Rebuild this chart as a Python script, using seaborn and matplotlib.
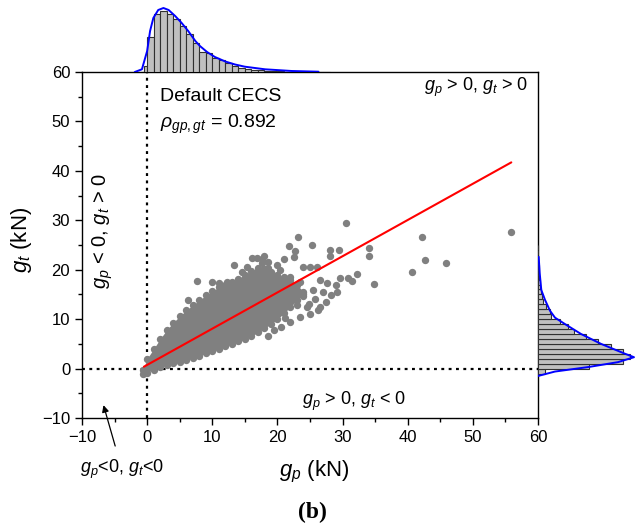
import numpy as np
import pandas as pd
import matplotlib
matplotlib.use("Agg")
import matplotlib.pyplot as plt
import seaborn as sns

sns.set_theme(style="white")
plt.rcParams['font.family'] = ['Liberation Sans', 'DejaVu Sans']
plt.rcParams['mathtext.fontset'] = 'custom'
plt.rcParams['mathtext.it'] = 'Liberation Sans:italic'
plt.rcParams['mathtext.rm'] = 'Liberation Sans'
plt.rcParams['mathtext.default'] = 'it'
for key in ('text.color', 'axes.labelcolor', 'xtick.color', 'ytick.color',
            'axes.edgecolor'):
    plt.rcParams[key] = 'black'

# ---- data -------------------------------------------------------------
# dense core of the g_p / g_t cloud: lower and upper envelope per g_p
core_gp = [-0.6, 0, 1, 2, 3, 4, 5, 6, 7, 8, 9, 10, 11, 12, 13, 14, 15, 16,
           17, 18, 19, 20, 21, 22, 23, 24]
core_hi = [-0.3, 2.0, 4.0, 6.0, 7.8, 9.3, 10.6, 11.8, 12.8, 13.8, 14.8, 15.6,
           16.5, 17.0, 17.6, 18.2, 19.0, 19.8, 20.3, 20.2, 19.6, 19.0, 18.5,
           18.0, 17.0, 15.5]
core_lo = [-1.0, -0.8, -0.2, 0.3, 0.7, 1.1, 1.4, 1.7, 2.1, 2.6, 3.1, 3.5, 4.0,
           4.5, 5.0, 5.5, 6.0, 6.6, 7.3, 8.2, 9.0, 10.0, 11.2, 12.5, 13.8, 15.0]

# scattered samples outside the core
pts_gp = [6.3, 7.6, 9.9, 11.0, 12.2, 13.3, 14.5, 15.3, 16.1, 16.9, 17.6, 17.9,
          18.6, 19.9, 18.6, 20.4, 22.0, 17.6, 21.0, 21.8, 22.7, 22.6, 23.1,
          25.3, 28.1, 29.4, 28.1, 30.6, 34.0, 34.1, 32.2, 34.9, 30.8, 29.6,
          29.2, 29.0, 27.6, 26.0, 25.0, 24.0, 26.6, 25.5, 24.0, 24.5, 18.6,
          20.5, 22.0, 23.5, 25.0, 26.5, 27.5, 23.0, 25.8, 27.0, 22.5, 23.5,
          19.5, 21.2, 24.8, 26.2, 28.3, 31.5,
          40.7, 42.2, 42.6, 45.9, 55.9]
pts_gt = [13.9, 17.8, 17.6, 17.3, 17.6, 21.0, 19.6, 20.6, 22.3, 22.3, 22.1,
          22.7, 21.6, 21.0, 20.3, 20.0, 18.6, 21.3, 22.2, 24.7, 23.7, 22.5,
          26.7, 24.9, 24.0, 24.0, 22.8, 29.4, 24.4, 22.7, 19.1, 17.1, 18.3,
          18.3, 15.4, 16.9, 17.3, 20.6, 20.6, 20.6, 17.9, 15.9, 14.6, 12.5,
          6.5, 8.5, 9.5, 10.5, 11.0, 12.5, 13.5, 12.8, 14.0, 15.5, 15.0, 17.5,
          7.8, 10.2, 13.0, 11.8, 14.8, 17.8,
          19.6, 26.7, 22.0, 21.3, 27.6]

# linear fit g_t = a + b * g_p over the sampled g_p range
fit_a, fit_b = 0.74, 0.733
fit_range = [-0.5, 55.9]

# marginal histogram of g_p (bin edges, relative frequency) and its KDE
gp_edges = [-0.5] + list(range(0, 29))
gp_freq = [6, 35, 58, 61, 58, 53, 46, 38, 29, 20, 19, 14, 12, 9, 6, 4.3, 3.3,
           2.3, 1.7, 1.0, 0.8, 0.6, 0.4, 0.3, 0.2, 0.2, 0.1, 0.1, 0.1]
gp_kde_x = [-1.9, -0.8, 0, 0.45, 0.95, 1.7, 2.5, 3.3, 4.3, 5.3, 6.3, 7.4, 8.1,
            9.2, 10.4, 12, 13.5, 15, 18.1, 22.2, 26.3]
gp_kde_y = [0, 2.7, 21, 41, 54, 62, 64, 62, 56, 49, 41, 31, 26, 20, 15, 10.5,
            7.5, 5.3, 2.7, 1.0, 0.3]

# marginal histogram of g_t and its KDE
gt_edges = list(range(-1, 26))
gt_freq = [7, 51, 85, 92, 85, 73, 60, 48, 36, 30, 22, 13, 12, 8, 5, 4, 3, 2,
           1.5, 1, 0.7, 0.5, 0.3, 0.2, 0.1, 0.1]
gt_kde_y = [-1.5, -0.6, 0.3, 1.3, 2.3, 3.0, 5.0, 7.0, 9.0, 10.3, 11.7, 13.9,
            15.9, 19.3, 22.6]
gt_kde_x = [0, 17, 50, 80, 96, 87, 63, 43, 27, 17, 12, 7, 3.3, 1.7, 0.7]

# ---- figure -----------------------------------------------------------
W, H = 640, 530
fig = plt.figure(figsize=(W / 100, H / 100), dpi=100)
L, R, T, B = 82, 538, 72, 418
ax = fig.add_axes([L / W, 1 - B / H, (R - L) / W, (B - T) / H])
ax_top = fig.add_axes([L / W, 1 - T / H, (R - L) / W, 67 / H])
ax_right = fig.add_axes([R / W, 1 - B / H, (W - R) / W, (B - T) / H])

grey = "#808080"
msize = 28
ax.fill_between(core_gp, core_lo, core_hi, color=grey, lw=0, zorder=2)
core_df = pd.DataFrame({"gp": core_gp + core_gp, "gt": core_lo + core_hi})
sns.scatterplot(data=core_df, x="gp", y="gt", ax=ax, color=grey, s=msize,
                linewidth=0, zorder=3)
pts_df = pd.DataFrame({"gp": pts_gp, "gt": pts_gt})
sns.scatterplot(data=pts_df, x="gp", y="gt", ax=ax, color=grey, s=msize,
                linewidth=0, zorder=3)

xs = np.array(fit_range)
ax.plot(xs, fit_a + fit_b * xs, color="red", lw=1.5, zorder=4)

dot = (0, (1.3, 2.0))
ax.axvline(0, color="black", lw=1.6, ls=dot, zorder=1)
ax.axhline(0, color="black", lw=1.6, ls=dot, zorder=1)

ax.set_xlim(-10, 60)
ax.set_ylim(-10, 60)
ax.set_xticks(range(-10, 61, 10))
ax.set_yticks(range(-10, 61, 10))
ax.set_xticks(range(-5, 60, 10), minor=True)
ax.set_yticks(range(-5, 60, 10), minor=True)
ax.tick_params(which="major", direction="out", length=5, width=1,
               labelsize=12, bottom=True, left=True, colors="black")
ax.tick_params(which="minor", direction="out", length=3, width=1,
               bottom=True, left=True)
ax.set_xlabel("")
ax.set_ylabel("")
for s in ax.spines.values():
    s.set_color("black")
    s.set_linewidth(1.0)

# quadrant annotations
ax.text(2.0, 55.0, "Default CECS", fontsize=14, va="center", ha="left")
ax.text(2.0, 49.3, r"$\rho_{gp,gt}$ = 0.892", fontsize=14, va="center",
        ha="left")
ax.text(58.4, 56.8, r"$g_p$ > 0, $g_t$ > 0", fontsize=13, va="center",
        ha="right")
ax.text(-6.8, 27.8, r"$g_p$ < 0, $g_t$ > 0", fontsize=14.5, va="center",
        ha="center", rotation=90)
ax.text(31.7, -6.7, r"$g_p$ > 0, $g_t$ < 0", fontsize=13, va="center",
        ha="center")
ax.annotate(r"$g_p$<0, $g_t$<0", xy=(-6.7, -7.4), xytext=(-3.9, -20.3),
            fontsize=13, ha="center", va="center", annotation_clip=False,
            arrowprops=dict(arrowstyle="-|>", color="black", lw=0.9,
                            shrinkA=6, shrinkB=0, mutation_scale=10))

fig.text(314 / W, 1 - 472 / H, r"$g_p$ (kN)", fontsize=16, ha="center",
         va="center")
fig.text(22 / W, 1 - 240 / H, r"$g_t$ (kN)", fontsize=16, ha="center",
         va="center", rotation=90)
fig.text(312 / W, 1 - 512 / H, "(b)", fontsize=17, fontweight="bold",
         family="Liberation Serif", ha="center", va="center")

# marginal distributions
sns.histplot(x=np.array(gp_edges[:-1]) + 0.01, weights=gp_freq,
             bins=gp_edges, ax=ax_top, color="#c0c0c0", edgecolor="#303030",
             linewidth=0.8, alpha=1)
ax_top.plot(gp_kde_x, gp_kde_y, color="blue", lw=1.4)
ax_top.set_xlim(-10, 60)
ax_top.set_ylim(0, 67)
ax_top.axis("off")

sns.histplot(y=np.array(gt_edges[:-1]) + 0.01, weights=gt_freq,
             bins=gt_edges, ax=ax_right, color="#c0c0c0", edgecolor="#303030",
             linewidth=0.8, alpha=1)
ax_right.plot(gt_kde_x, gt_kde_y, color="blue", lw=1.4)
ax_right.set_ylim(-10, 60)
ax_right.set_xlim(0, W - R)
ax_right.axis("off")

fig.savefig("out.png", dpi=100)
